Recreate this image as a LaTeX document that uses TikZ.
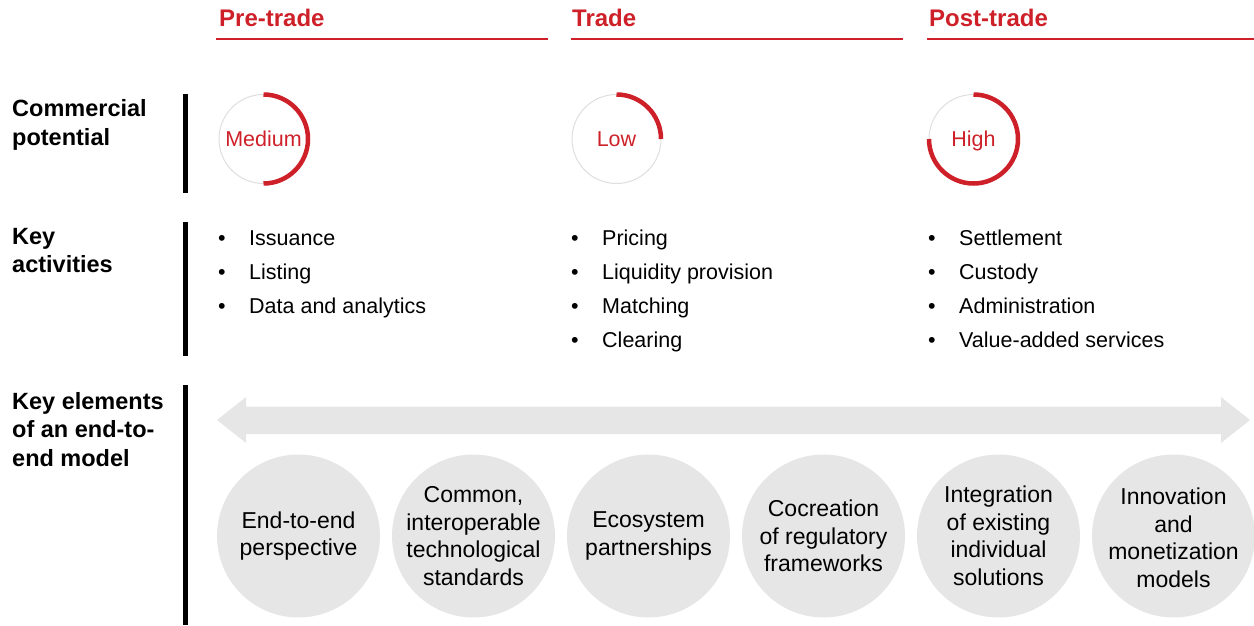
\documentclass[tikz,border=0pt]{standalone}
\usepackage{fontspec}
\setmainfont{Liberation Sans}
\definecolor{bred}{RGB}{206,32,40}
\definecolor{lgray}{RGB}{230,230,230}
\definecolor{ggray}{RGB}{222,222,222}
\begin{document}
\begin{tikzpicture}[x=1pt,y=1pt,
  hdr/.style={anchor=base west,inner sep=0,text=bred,font=\fontsize{24}{28}\selectfont\bfseries},
  hline/.style={draw=bred,line width=1.5pt},
  rowlbl/.style={anchor=base west,inner sep=0,align=left,font=\fontsize{23.5}{28.5}\selectfont\bfseries},
  bar/.style={fill=black},
  gauge/.style={circle,draw=ggray,line width=1pt,minimum size=89pt,inner sep=0,outer sep=0,text depth=0pt,text=bred,font=\fontsize{21.5}{26}\selectfont},
  garc/.style={draw=bred,line width=4.5pt},
  bul/.style={anchor=base,inner sep=0,font=\fontsize{21.5}{26}\selectfont},
  item/.style={anchor=base west,inner sep=0,font=\fontsize{21.5}{26}\selectfont},
  elem/.style={circle,fill=lgray,minimum size=163pt,inner sep=0},
  elemtxt/.style={align=center,inner sep=0,font=\fontsize{23}{27.5}\selectfont},
]
\useasboundingbox (0,0) rectangle (1254,-626);

% headers
\node[hdr] (h1) at (219,-27) {Pre-trade};
\node[hdr] (h2) at (572,-27) {Trade};
\node[hdr] (h3) at (929,-27) {Post-trade};
\draw[hline] (216,-39) -- (548,-39);
\draw[hline] (571,-39) -- (903,-39);
\draw[hline] (927,-39) -- (1254,-39);

% row labels (base = last line)
\node[rowlbl] (r1) at (12,-145.5) {Commercial\\potential};
\node[rowlbl] (r2) at (12,-272.5) {Key\\activities};
\node[rowlbl] (r3) at (12,-466) {Key elements\\of an end-to-\\end model};

% bars
\fill[bar] (183,-94) rectangle (188,-193);
\fill[bar] (183,-222) rectangle (188,-356);
\fill[bar] (183,-385) rectangle (188,-625);

% gauges
\node[gauge] (g1) at (263.5,-139) {Medium};
\node[gauge] (g2) at (616.5,-139) {Low};
\node[gauge] (g3) at (973.5,-139) {High};
\draw[garc] (g1.north) arc[start angle=90,end angle=-90,radius=44.5pt];
\draw[garc] (g2.north) arc[start angle=90,end angle=0,radius=44.5pt];
\draw[garc] (g3.north) arc[start angle=90,end angle=-180,radius=44.5pt];

% key activities
\foreach \y [count=\i] in {245,279,313}{
  \node[bul] (pb\i) at (222,-\y) {•};
}
\node[item] (p1) at (249,-245) {Issuance};
\node[item] (p2) at (249,-279) {Listing};
\node[item] (p3) at (249,-313) {Data and analytics};

\foreach \y [count=\i] in {245,279,313,347}{
  \node[bul] (tb\i) at (575,-\y) {•};
  \node[bul] (sb\i) at (932,-\y) {•};
}
\node[item] (t1) at (602,-245) {Pricing};
\node[item] (t2) at (602,-279) {Liquidity provision};
\node[item] (t3) at (602,-313) {Matching};
\node[item] (t4) at (602,-347) {Clearing};

\node[item] (s1) at (959,-245) {Settlement};
\node[item] (s2) at (959,-279) {Custody};
\node[item] (s3) at (959,-313) {Administration};
\node[item] (s4) at (959,-347) {Value-added services};

% double arrow
\fill[lgray] (217,-420) -- (246,-397) -- (246,-406.5) -- (1221,-406.5) -- (1221,-397) -- (1250,-420)
  -- (1221,-443) -- (1221,-434) -- (246,-434) -- (246,-443) -- cycle;

% elements
\node[elem] (e1) at (298.5,-536) {};
\node[elem] (e2) at (473.5,-536) {};
\node[elem] (e3) at (648.5,-536) {};
\node[elem] (e4) at (823.5,-536) {};
\node[elem] (e5) at (998.5,-536) {};
\node[elem] (e6) at (1173.5,-536) {};
\node[elemtxt] (x1) at (e1) {End-to-end\\perspective};
\node[elemtxt] (x2) at (e2) {Common,\\interoperable\\technological\\standards};
\node[elemtxt] (x3) at (e3) {Ecosystem\\partnerships};
\node[elemtxt] (x4) at (e4) {Cocreation\\of regulatory\\frameworks};
\node[elemtxt] (x5) at (e5) {Integration\\of existing\\individual\\solutions};
\node[elemtxt] (x6) at ([yshift=-2pt]e6.center) {Innovation\\and\\monetization\\models};
\end{tikzpicture}
\end{document}
